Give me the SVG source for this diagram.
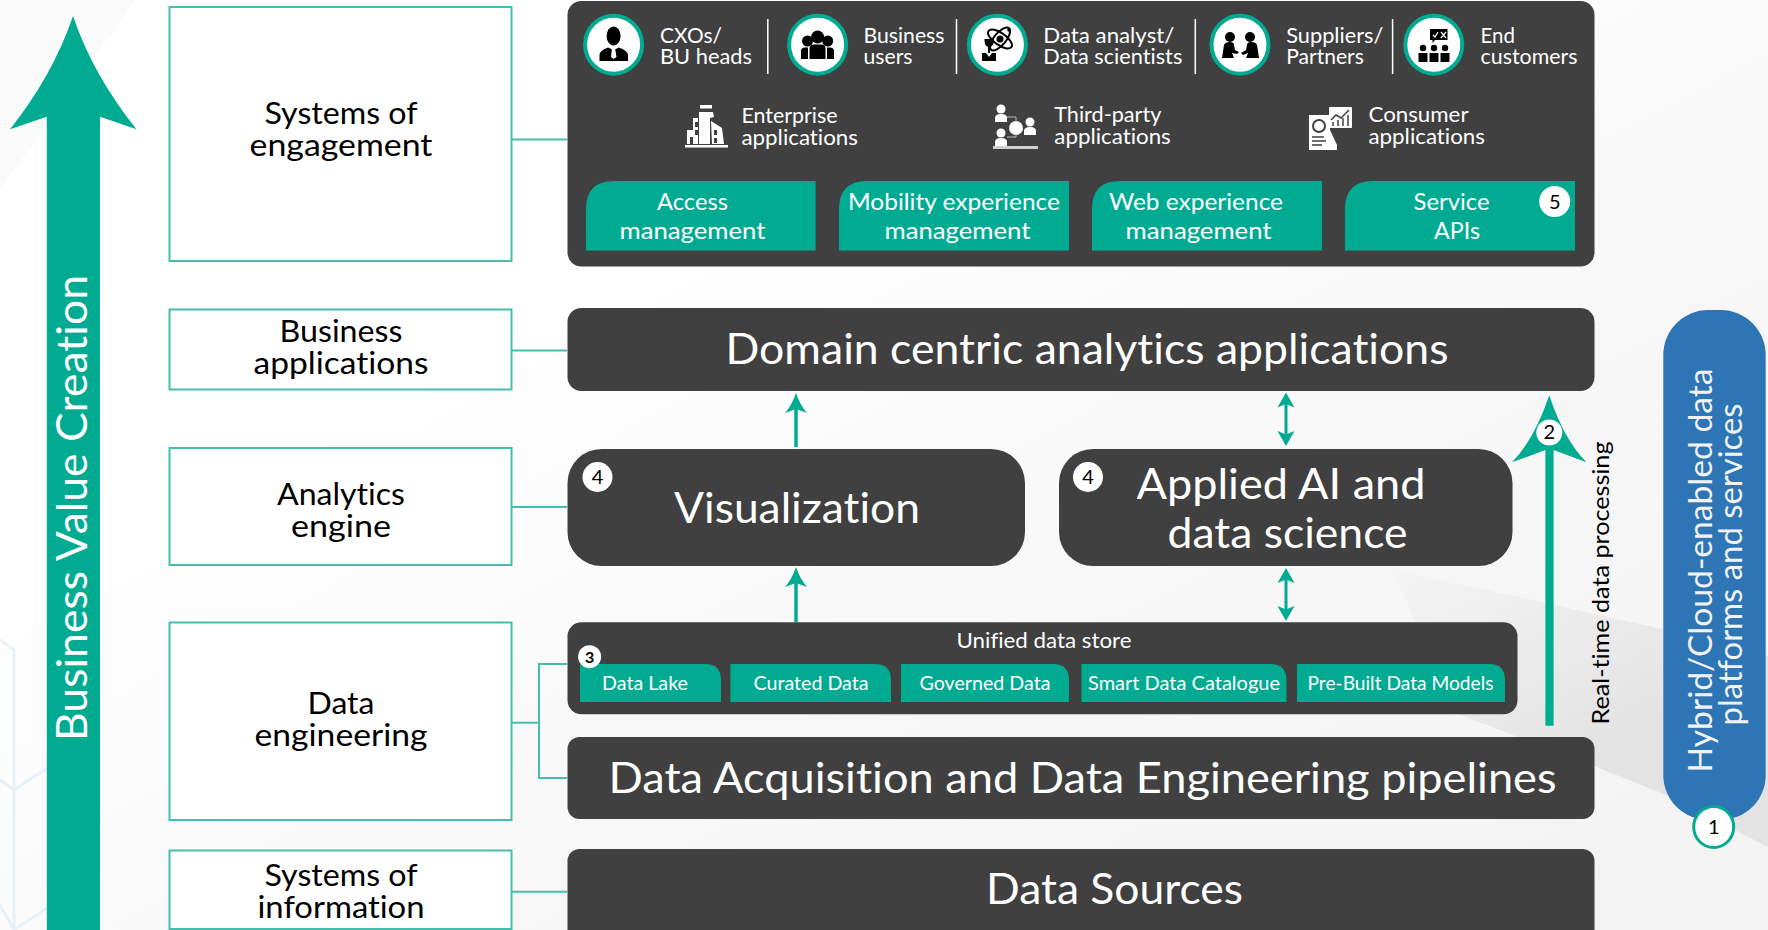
<svg xmlns="http://www.w3.org/2000/svg" width="1768" height="930" viewBox="0 0 1768 930">
<defs>
<style>
text{font-family:"Lato","Liberation Sans",sans-serif;font-variant-ligatures:none}
.w{fill:#fff}
.b{fill:#000}
.lb{fill:#fff;stroke:#44bfab;stroke-width:2}
.lt{font-size:30px;fill:#000;text-anchor:middle}
.dk{fill:#404040}
.ch{fill:#00ab92}
.rt{font-size:21px;fill:#fff}
.ct{font-size:24px;fill:#fff;text-anchor:middle}
.st{font-size:19px;fill:#fff;text-anchor:middle}
.big{font-size:42px;fill:#fff;text-anchor:middle}
.cn{fill:none;stroke:#44bfab;stroke-width:2}
.ar{fill:none;stroke:#00ab92;stroke-width:3.500}
.ah{fill:#00ab92}
.ic{fill:#fff;stroke:#00ab92;stroke-width:4}
.bd{fill:#fff}
.bt{font-size:20px;fill:#000;text-anchor:middle}
.sep{stroke:#fff;stroke-width:1.500}
.hx{fill:none;stroke:#e9f1f8;stroke-width:3}
</style>
<linearGradient id="bg" x1="0" y1="0" x2="1" y2="1"><stop offset="0.3" stop-color="#ffffff"/><stop offset="0.65" stop-color="#f7f7f7"/><stop offset="1" stop-color="#f3f3f3"/></linearGradient>
<linearGradient id="wedge" gradientUnits="userSpaceOnUse" x1="1420" y1="560" x2="1540" y2="790"><stop offset="0" stop-color="#f4f4f4"/><stop offset="1" stop-color="#e3e3e3"/></linearGradient>
<path id="up" d="M0 0L8.500 15L0 11.500L-8.500 15Z"/>
<path id="upl" d="M0 0Q4 12 11 20L0 16L-11 20Q-4 12 0 0Z"/>
</defs>
<g id="background">
<rect width="1768" height="930" fill="url(#bg)"/>
<polygon points="0,0 135,0 0,190" fill="#fafafa"/>
<polygon points="1392,569 1662,629 1768,656 1768,847 1664,794 1594,766 1456,713" fill="url(#wedge)"/>
<polyline class="hx" points="0,640 14,650 14,790 0,780"/>
<polyline class="hx" points="14,790 47,768"/>
<polyline class="hx" points="14,790 14,930"/>
<polyline class="hx" points="0,905 14,930 47,908"/>
</g>
<g id="connectors">
<path class="cn" d="M512 139.500H567"/>
<path class="cn" d="M512 350.500H567"/>
<path class="cn" d="M512 507H567"/>
<path class="cn" d="M512 722.700H539"/>
<path class="cn" d="M567 664H539V778H567"/>
<path class="cn" d="M512 891.700H567"/>
<path class="ar" d="M796 447V405"/><use href="#upl" class="ah" x="796" y="393"/>
<path class="ar" d="M796 622V579"/><use href="#upl" class="ah" x="796" y="567"/>
<path class="ar" style="stroke-width:3" d="M1286 402V437"/><use href="#up" class="ah" x="1286" y="392.500"/><use href="#up" class="ah" transform="translate(1286 446) scale(1 -1)"/>
<path class="ar" style="stroke-width:3" d="M1286 577V612"/><use href="#up" class="ah" x="1286" y="568"/><use href="#up" class="ah" transform="translate(1286 621) scale(1 -1)"/>
</g>
<g id="value-arrow">
<path class="ah" d="M73 16Q93 75 136.500 129.300L100 116.700V930H46.800V116.700L10 129.300Q53 75 73 16Z"/>
<text transform="translate(86.800 741) rotate(-90)" font-size="43" fill="#fff" textLength="466" lengthAdjust="spacingAndGlyphs">Business Value Creation</text>
</g>
<g id="layer-engagement"><rect class="lb" x="169.500" y="7" width="342" height="254"/><text class="lt" x="341" y="124.300" textLength="153" lengthAdjust="spacingAndGlyphs">Systems of</text><text class="lt" x="341" y="156.300" textLength="183" lengthAdjust="spacingAndGlyphs">engagement</text></g>
<g id="layer-business"><rect class="lb" x="169.500" y="309.500" width="342" height="80"/><text class="lt" x="341" y="341.600" textLength="123" lengthAdjust="spacingAndGlyphs">Business</text><text class="lt" x="341" y="374" textLength="175" lengthAdjust="spacingAndGlyphs">applications</text></g>
<g id="layer-analytics"><rect class="lb" x="169.500" y="448" width="342" height="117"/><text class="lt" x="341" y="505" textLength="128" lengthAdjust="spacingAndGlyphs">Analytics</text><text class="lt" x="341" y="536.500" textLength="100" lengthAdjust="spacingAndGlyphs">engine</text></g>
<g id="layer-dataeng"><rect class="lb" x="169.500" y="622.500" width="342" height="197.500"/><text class="lt" x="341" y="714.300" textLength="67" lengthAdjust="spacingAndGlyphs">Data</text><text class="lt" x="341" y="746" textLength="173" lengthAdjust="spacingAndGlyphs">engineering</text></g>
<g id="layer-information"><rect class="lb" x="169.500" y="850.500" width="342" height="78.500"/><text class="lt" x="341" y="886" textLength="153" lengthAdjust="spacingAndGlyphs">Systems of</text><text class="lt" x="341" y="918" textLength="167" lengthAdjust="spacingAndGlyphs">information</text></g>
<g id="engagement-panel">
<rect class="dk" x="567.500" y="1" width="1027" height="265.500" rx="14"/>
<path class="sep" d="M767.800 19V74M956.500 19V74M1195.300 19V74M1392.600 19V74"/>
</g>
<g id="user-cxo">
<ellipse class="ic" cx="613.600" cy="44.700" rx="28.500" ry="29"/>
<ellipse class="b" cx="613.600" cy="36" rx="7" ry="9.500"/>
<path class="b" d="M599.500 61V55Q600 50 608 47.500L613.600 50L619 47.500Q627 50 628 55V61Z"/>
<path class="w" d="M612 48H615L616.500 57L613.600 59L611 57Z"/>
<text class="rt" x="660" y="42.700" textLength="62" lengthAdjust="spacingAndGlyphs">CXOs/</text><text class="rt" x="660" y="64" textLength="92" lengthAdjust="spacingAndGlyphs">BU heads</text>
</g>
<g id="user-business">
<ellipse class="ic" cx="817.600" cy="44.700" rx="28.500" ry="29"/>
<circle class="b" cx="807.500" cy="41" r="5.500"/><circle class="b" cx="827.700" cy="41" r="5.500"/>
<path class="b" d="M801 59V51Q801 47.500 805 47.500H808V59ZM834 59V51Q834 47.500 830 47.500H827V59Z"/>
<circle class="b" cx="817.600" cy="37" r="6.500"/>
<path class="b" d="M809.500 59V49Q809.500 44.500 814 44.500H821Q825.500 44.500 825.500 49V59Z"/>
<text class="rt" x="863.500" y="42.700" textLength="81" lengthAdjust="spacingAndGlyphs">Business</text><text class="rt" x="863.500" y="64" textLength="49" lengthAdjust="spacingAndGlyphs">users</text>
</g>
<g id="user-analyst">
<ellipse class="ic" cx="997.400" cy="44.700" rx="28.500" ry="29"/>
<g fill="none" stroke="#000" stroke-width="2"><ellipse cx="1000" cy="39" rx="14" ry="6" transform="rotate(35 1000 39)"/><ellipse cx="1000" cy="39" rx="14" ry="6" transform="rotate(-50 1000 39)"/></g>
<circle class="b" cx="1000" cy="39" r="3.500"/><circle class="b" cx="1009" cy="30" r="1.800"/>
<path class="b" d="M984.500 39H994V41Q993 47 989 47Q985 47 984.500 41ZM988 47H990V53H988Z"/>
<path class="b" d="M982 53H986L989 57L992 53H996V61H982Z"/>
<text class="rt" x="1043.300" y="42.700" textLength="131" lengthAdjust="spacingAndGlyphs">Data analyst/</text><text class="rt" x="1043.300" y="64" textLength="139" lengthAdjust="spacingAndGlyphs">Data scientists</text>
</g>
<g id="user-suppliers">
<ellipse class="ic" cx="1240" cy="44.700" rx="28.500" ry="29"/>
<circle class="b" cx="1230" cy="37" r="5"/><circle class="b" cx="1250" cy="37" r="5"/>
<path class="b" d="M1222 58L1224 45Q1225 42 1230 42Q1234 42 1234 45L1235 50L1239 52L1237 54L1232 53L1234 58ZM1259 58L1257 45Q1256 42 1251 42Q1247 42 1247 45L1246 50L1241 53L1243 55L1248 53L1246 58Z"/>
<text class="rt" x="1286.300" y="42.700" textLength="97" lengthAdjust="spacingAndGlyphs">Suppliers/</text><text class="rt" x="1286.300" y="64" textLength="77.500" lengthAdjust="spacingAndGlyphs">Partners</text>
</g>
<g id="user-customers">
<ellipse class="ic" cx="1433.800" cy="44.700" rx="28.500" ry="29"/>
<path class="b" d="M1430 29H1447.500V40H1435L1432.500 43V40H1430Z"/>
<path d="M1433 35L1435 37L1438 32M1441 32L1446 38M1446 32L1441 38" fill="none" stroke="#fff" stroke-width="1.200"/>
<g class="b"><circle cx="1423" cy="48" r="3.200"/><circle cx="1434" cy="48" r="3.200"/><circle cx="1445" cy="48" r="3.200"/><rect x="1418.500" y="53" width="9" height="9"/><rect x="1429.500" y="53" width="9" height="9"/><rect x="1440.500" y="53" width="9" height="9"/></g>
<text class="rt" x="1480.500" y="42.700" textLength="34.500" lengthAdjust="spacingAndGlyphs">End</text><text class="rt" x="1480.500" y="64" textLength="97" lengthAdjust="spacingAndGlyphs">customers</text>
</g>
<g id="app-enterprise">
<path class="w" d="M700 105H712V108.500H700ZM685 145H728V147.500H685ZM699 112H713L714 117L710 118V144H699ZM693 118H698V144H687V130H693ZM711 121L722 128L724 144H712Z"/>
<path class="dk" d="M695 122H698V127H695ZM695 130H698V135H695ZM690 137H693V144H690ZM714 130H717V135H714ZM714 138H717V143H714Z"/>
<text class="rt" x="741.500" y="122.700" textLength="96" lengthAdjust="spacingAndGlyphs">Enterprise</text><text class="rt" x="741.500" y="145" textLength="116.500" lengthAdjust="spacingAndGlyphs">applications</text>
</g>
<g id="app-third">
<g class="w"><circle cx="1001" cy="109" r="4.500"/><path d="M995 122V118Q995 114 1001 114Q1007 114 1007 118V122Z"/><circle cx="1001" cy="133" r="4.500"/><path d="M995 146V142Q995 138 1001 138Q1007 138 1007 142V146Z"/><circle cx="1030" cy="122" r="4.500"/><path d="M1024 135V131Q1024 127 1030 127Q1036 127 1036 131V135Z"/><circle cx="1016" cy="128" r="7"/></g>
<path d="M1007 117H1016V122M1007 137H1016V134" fill="none" stroke="#bbb" stroke-width="1"/>
<rect class="w" x="993" y="146" width="45" height="3" opacity=".75"/>
<text class="rt" x="1054.300" y="122" textLength="107" lengthAdjust="spacingAndGlyphs">Third-party</text><text class="rt" x="1054.300" y="144" textLength="116.500" lengthAdjust="spacingAndGlyphs">applications</text>
</g>
<g id="app-consumer">
<path class="w" d="M1309 115H1330V130L1337 145V150H1309Z"/>
<rect class="w" x="1329" y="107" width="23" height="21" rx="1"/>
<path d="M1331 120L1336 115L1341 118L1349 110" fill="none" stroke="#404040" stroke-width="1.500"/>
<path d="M1333 126V122M1338 126V120M1343 126V118M1348 126V115" stroke="#404040" stroke-width="1.500"/>
<circle cx="1319" cy="126" r="6" fill="none" stroke="#404040" stroke-width="2"/>
<path d="M1312 137H1324M1312 141H1326M1312 145H1322" stroke="#404040" stroke-width="1.500"/>
<text class="rt" x="1368.500" y="122" textLength="100" lengthAdjust="spacingAndGlyphs">Consumer</text><text class="rt" x="1368.500" y="144" textLength="116.500" lengthAdjust="spacingAndGlyphs">applications</text>
</g>
<g id="chip-access"><path class="ch" d="M586 250.500V209Q586 181 614 181H815.600V250.500Z"/><text class="ct" x="692.500" y="210" textLength="71" lengthAdjust="spacingAndGlyphs">Access</text><text class="ct" x="692.500" y="239" textLength="146" lengthAdjust="spacingAndGlyphs">management</text></g>
<g id="chip-mobility"><path class="ch" d="M839 250.500V209Q839 181 867 181H1069V250.500Z"/><text class="ct" x="954" y="210" textLength="212" lengthAdjust="spacingAndGlyphs">Mobility experience</text><text class="ct" x="957.500" y="239" textLength="146" lengthAdjust="spacingAndGlyphs">management</text></g>
<g id="chip-web"><path class="ch" d="M1092 250.500V209Q1092 181 1120 181H1322V250.500Z"/><text class="ct" x="1196" y="210" textLength="174" lengthAdjust="spacingAndGlyphs">Web experience</text><text class="ct" x="1198.600" y="239" textLength="146" lengthAdjust="spacingAndGlyphs">management</text></g>
<g id="chip-api"><path class="ch" d="M1345 250.500V209Q1345 181 1373 181H1575V250.500Z"/><text class="ct" x="1451.600" y="210" textLength="76" lengthAdjust="spacingAndGlyphs">Service</text><text class="ct" x="1457" y="239" textLength="46" lengthAdjust="spacingAndGlyphs">APIs</text><circle class="bd" cx="1554.700" cy="201.500" r="15.500"/><text class="bt" x="1554.700" y="208.500">5</text></g>
<g id="domain-apps"><rect class="dk" x="567.500" y="308" width="1027" height="83" rx="14"/><text class="big" x="1087" y="363.500" textLength="723" lengthAdjust="spacingAndGlyphs">Domain centric analytics applications</text></g>
<g id="visualization"><rect class="dk" x="567.500" y="449" width="457.500" height="117" rx="34"/><text class="big" x="797" y="523" textLength="246" lengthAdjust="spacingAndGlyphs">Visualization</text><circle class="bd" cx="597.500" cy="477" r="15"/><text class="bt" x="597.500" y="484">4</text></g>
<g id="applied-ai"><rect class="dk" x="1059" y="449" width="453.500" height="117" rx="34"/><text class="big" x="1281" y="499" textLength="289" lengthAdjust="spacingAndGlyphs">Applied AI and</text><text class="big" x="1287.500" y="547.500" textLength="240" lengthAdjust="spacingAndGlyphs">data science</text><circle class="bd" cx="1088" cy="477" r="15"/><text class="bt" x="1088" y="484">4</text></g>
<g id="unified-store">
<rect class="dk" x="567.500" y="622.300" width="950" height="92" rx="14"/>
<text x="1044" y="648" font-size="21" fill="#fff" text-anchor="middle" textLength="175" lengthAdjust="spacingAndGlyphs">Unified data store</text>
<path class="ch" d="M580 702V664H705Q721 664 721 680V702Z"/><text class="st" x="645" y="690" textLength="86" lengthAdjust="spacingAndGlyphs">Data Lake</text>
<path class="ch" d="M730.400 702V664H875Q891 664 891 680V702Z"/><text class="st" x="811" y="690" textLength="115" lengthAdjust="spacingAndGlyphs">Curated Data</text>
<path class="ch" d="M901 702V664H1053Q1069 664 1069 680V702Z"/><text class="st" x="985" y="690" textLength="131" lengthAdjust="spacingAndGlyphs">Governed Data</text>
<path class="ch" d="M1081.400 702V664H1270Q1286.400 664 1286.400 680V702Z"/><text class="st" x="1184" y="690" textLength="192" lengthAdjust="spacingAndGlyphs">Smart Data Catalogue</text>
<path class="ch" d="M1297 702V664H1489Q1505 664 1505 680V702Z"/><text class="st" x="1400.500" y="690" textLength="186" lengthAdjust="spacingAndGlyphs">Pre-Built Data Models</text>
<circle class="bd" cx="589.600" cy="656.700" r="11.500"/><text x="589.600" y="662.500" font-size="16" font-weight="700" fill="#000" text-anchor="middle">3</text>
</g>
<g id="pipelines"><rect class="dk" x="567.500" y="737" width="1027" height="82" rx="12"/><text class="big" x="1082.500" y="792.700" textLength="948" lengthAdjust="spacingAndGlyphs">Data Acquisition and Data Engineering pipelines</text></g>
<g id="data-sources"><rect class="dk" x="567.500" y="849" width="1027" height="100" rx="12"/><text class="big" x="1114.500" y="903.700" textLength="257" lengthAdjust="spacingAndGlyphs">Data Sources</text></g>
<g id="realtime-arrow">
<path class="ah" d="M1549.300 395.300Q1564 440 1586.500 462.300L1553.600 450V725.700H1545.400V450L1512 462.300Q1534 440 1549.300 395.300Z"/>
<circle class="bd" cx="1549.300" cy="432.500" r="13"/><text class="bt" x="1549.300" y="439">2</text>
<text transform="translate(1608.600 724.500) rotate(-90)" font-size="24" fill="#000" textLength="283" lengthAdjust="spacingAndGlyphs">Real-time data processing</text>
</g>
<g id="cloud-platforms">
<rect x="1663.300" y="310" width="102.400" height="510" rx="45" fill="#2e75b6"/>
<text transform="translate(1711.800 772.500) rotate(-90)" font-size="33" fill="#f2f2f2" textLength="404" lengthAdjust="spacingAndGlyphs">Hybrid/Cloud-enabled data</text>
<text transform="translate(1741.600 725.500) rotate(-90)" font-size="33" fill="#f2f2f2" textLength="322" lengthAdjust="spacingAndGlyphs">platforms and services</text>
<ellipse cx="1713.700" cy="827" rx="20" ry="20.500" fill="#fff" stroke="#00ab92" stroke-width="3"/><text class="bt" x="1713.700" y="834">1</text>
</g>
</svg>
